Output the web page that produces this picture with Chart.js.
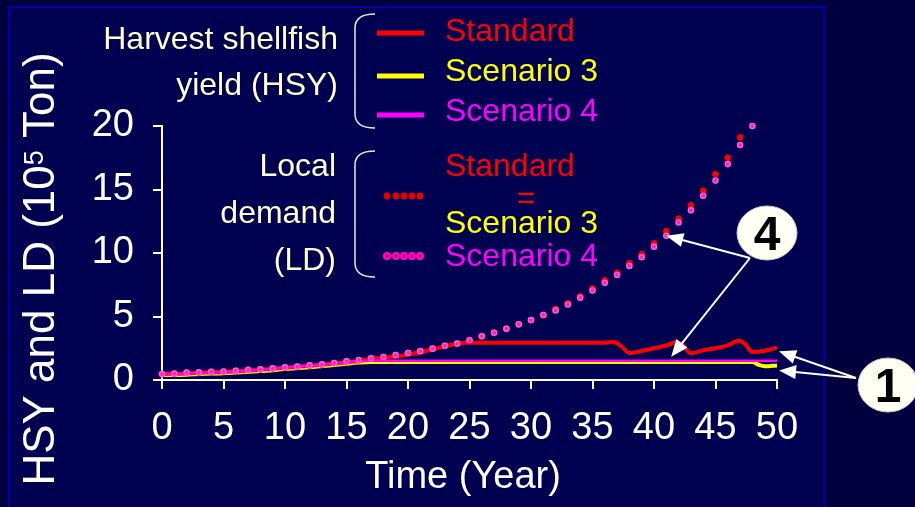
<!DOCTYPE html>
<html>
<head>
<meta charset="utf-8">
<title>HSY and LD</title>
<script src="https://cdn.jsdelivr.net/npm/chart.js@4.4.0/dist/chart.umd.min.js"></script>
<style>
  html, body { margin: 0; padding: 0; background: #00003c; }
  canvas { display: block; }
</style>
</head>
<body>
<canvas id="grafico" width="915" height="507"></canvas>
<script>
// Demanda local (LD) - pontos anuais
var anosLD = [0,1,2,3,4,5,6,7,8,9,10,11,12,13,14,15,16,17,18,19,20,21,22,23,24,25,26,27,28,29,30,31,32,33,34,35,36,37,38,39,40,41,42,43,44,45,46,47,48];
var ldPadrao = [0.47,0.5,0.58,0.6,0.65,0.67,0.73,0.8,0.84,0.92,1.0,1.05,1.15,1.23,1.34,1.47,1.57,1.7,1.81,1.97,2.13,2.27,2.47,2.7,2.87,3.13,3.45,3.72,4.04,4.38,4.72,5.12,5.6,6.05,6.6,7.2,7.85,8.45,9.2,9.9,10.76,11.73,12.7,13.75,14.9,16.2,17.5,19.1];
var ldCenario4 = [0.47,0.5,0.58,0.6,0.65,0.67,0.73,0.8,0.84,0.92,1.0,1.05,1.15,1.23,1.34,1.47,1.57,1.7,1.81,1.97,2.13,2.27,2.47,2.7,2.87,3.13,3.45,3.72,4.04,4.38,4.72,5.12,5.48,5.95,6.47,7.05,7.65,8.27,8.98,9.66,10.5,11.36,12.4,13.36,14.5,15.7,17.0,18.5,20.0];

// Colheita de mariscos (HSY) - linhas
var anosHsyPadrao = [0,2,3,5,8,10,12,14,15,16,16.5,17,18,19,20,21,22,23,24,24.6,30,36,36.7,37.3,38,39,40,41,41.8,42.3,43,44,45,46,46.9,47.4,48,49,50];
var hsyPadrao = [0.47,0.52,0.58,0.63,0.8,0.97,1.12,1.3,1.4,1.5,1.6,1.68,1.75,1.85,2.0,2.18,2.42,2.65,2.85,2.93,2.93,2.93,3.0,2.7,2.12,2.28,2.5,2.72,2.97,2.8,2.1,2.33,2.5,2.73,3.1,2.85,2.2,2.3,2.57];
var anosHsyCenario3 = [0,2,3,5,8,10,12,14,15,16,17,48,48.5,49,50];
var hsyCenario3 = [0.4,0.42,0.48,0.53,0.7,0.86,1.01,1.18,1.28,1.37,1.42,1.42,1.2,1.08,1.15];
var anosHsyCenario4 = [0,2,3,5,8,10,12,14,15,16,17,50];
var hsyCenario4 = [0.47,0.52,0.58,0.63,0.8,0.97,1.12,1.3,1.4,1.5,1.52,1.52];

var ticksX = [0,5,10,15,20,25,30,35,40,45,50];
var ticksY = [0,5,10,15,20];

var fonte = "'Liberation Sans', Arial, sans-serif";

function montarPontos(anos, valores) {
    var pontos = [];
    for (var i = 0; i < valores.length; i++) {
        pontos.push({ x: anos[i], y: valores[i] });
    }
    return pontos;
}

function seta(ctx, x1, y1, x2, y2) {
    var ang = Math.atan2(y2 - y1, x2 - x1);
    var comp = 17, larg = 7;
    ctx.beginPath();
    ctx.moveTo(x1, y1);
    ctx.lineTo(x2 - Math.cos(ang) * comp * 0.8, y2 - Math.sin(ang) * comp * 0.8);
    ctx.stroke();
    ctx.beginPath();
    ctx.moveTo(x2, y2);
    ctx.lineTo(x2 - Math.cos(ang) * comp - Math.sin(ang) * larg, y2 - Math.sin(ang) * comp + Math.cos(ang) * larg);
    ctx.lineTo(x2 - Math.cos(ang) * comp + Math.sin(ang) * larg, y2 - Math.sin(ang) * comp - Math.cos(ang) * larg);
    ctx.closePath();
    ctx.fill();
}

function chave(ctx, x, topo, base) {
    ctx.beginPath();
    ctx.moveTo(x + 20, topo);
    ctx.quadraticCurveTo(x, topo, x, topo + 14);
    ctx.lineTo(x, base - 14);
    ctx.quadraticCurveTo(x, base, x + 20, base);
    ctx.stroke();
}

function circuloNumero(ctx, cx, cy, txt) {
    ctx.beginPath();
    ctx.ellipse(cx, cy, 30, 27, 0, 0, Math.PI * 2);
    ctx.fillStyle = '#FFFFF4';
    ctx.fill();
    ctx.strokeStyle = '#C8C8C8';
    ctx.lineWidth = 1;
    ctx.stroke();
    ctx.fillStyle = '#000000';
    ctx.font = 'bold 48px ' + fonte;
    ctx.textAlign = 'center';
    ctx.textBaseline = 'alphabetic';
    ctx.fillText(txt, cx, cy + 17);
}

// fundo azul escuro com moldura
const fundo = {
    id: 'fundo',
    beforeDraw(chart) {
        const ctx = chart.ctx;
        ctx.save();
        ctx.fillStyle = '#00003E';
        ctx.fillRect(0, 0, chart.width, chart.height);
        ctx.fillStyle = '#000050';
        ctx.fillRect(9, 7, 815, 510);
        ctx.strokeStyle = '#0000A8';
        ctx.lineWidth = 2;
        ctx.strokeRect(9, 7, 815, 510);
        ctx.restore();
    }
}

// legenda, titulos e anotacoes
const extras = {
    id: 'extras',
    afterDraw(chart) {
        const ctx = chart.ctx;
        const xs = chart.scales.x;
        const ys = chart.scales.y;
        ctx.save();

        // titulo eixo Y com expoente
        ctx.fillStyle = '#FFFFFF';
        ctx.textBaseline = 'alphabetic';
        ctx.textAlign = 'left';
        var p1 = 'HSY and LD (10', p2 = '5', p3 = ' Ton)';
        ctx.font = '44px ' + fonte;
        var w1 = ctx.measureText(p1).width, w3 = ctx.measureText(p3).width;
        ctx.font = '27px ' + fonte;
        var w2 = ctx.measureText(p2).width;
        var total = w1 + w2 + w3;
        ctx.translate(54, 269);
        ctx.rotate(-Math.PI / 2);
        ctx.font = '44px ' + fonte;
        ctx.fillText(p1, -total / 2, 0);
        ctx.font = '27px ' + fonte;
        ctx.fillText(p2, -total / 2 + w1, -11);
        ctx.font = '44px ' + fonte;
        ctx.fillText(p3, -total / 2 + w1 + w2, 0);
        ctx.setTransform(1, 0, 0, 1, 0, 0);

        // titulo eixo X
        ctx.font = '38px ' + fonte;
        ctx.textAlign = 'center';
        ctx.fillText('Time (Year)', 463, 488);

        // legenda HSY
        ctx.fillStyle = '#FFFFCC';
        ctx.textAlign = 'right';
        ctx.font = '32px ' + fonte;
        ctx.fillText('Harvest shellfish', 338, 49);
        ctx.fillText('yield (HSY)', 338, 95);
        ctx.fillText('Local', 336, 176);
        ctx.fillText('demand', 336, 223);
        ctx.fillText('(LD)', 336, 270);

        ctx.strokeStyle = '#E6E6E6';
        ctx.lineWidth = 1.5;
        chave(ctx, 355, 14, 128);
        chave(ctx, 355, 151, 277);

        var coresHsy = ['#FF0000', '#FFFF00', '#FF00FF'];
        var yLinhas = [33, 76, 115];
        ctx.lineWidth = 5;
        for (var i = 0; i < 3; i++) {
            ctx.strokeStyle = coresHsy[i];
            ctx.beginPath();
            ctx.moveTo(377, yLinhas[i]);
            ctx.lineTo(424, yLinhas[i]);
            ctx.stroke();
        }

        ctx.textAlign = 'left';
        ctx.font = '32px ' + fonte;
        ctx.fillStyle = '#FF0000';
        ctx.fillText('Standard', 445, 41);
        ctx.fillStyle = '#FFFF00';
        ctx.fillText('Scenario 3', 445, 81);
        ctx.fillStyle = '#FF00FF';
        ctx.fillText('Scenario 4', 445, 121);

        ctx.fillStyle = '#FF0000';
        ctx.fillText('Standard', 445, 176);
        ctx.textAlign = 'center';
        ctx.fillText('=', 526, 208);
        ctx.textAlign = 'left';
        ctx.fillStyle = '#FFFF00';
        ctx.fillText('Scenario 3', 445, 233);
        ctx.fillStyle = '#FF00FF';
        ctx.fillText('Scenario 4', 445, 266);

        var xPontos = [387, 396, 404, 412, 420];
        for (var j = 0; j < xPontos.length; j++) {
            ctx.beginPath();
            ctx.arc(xPontos[j], 196, 3.4, 0, Math.PI * 2);
            ctx.fillStyle = '#E80000';
            ctx.fill();
            ctx.beginPath();
            ctx.arc(xPontos[j], 256, 3.2, 0, Math.PI * 2);
            ctx.fillStyle = '#FF0040';
            ctx.fill();
            ctx.strokeStyle = '#FF00FF';
            ctx.lineWidth = 1.6;
            ctx.stroke();
        }

        // setas e circulos numerados
        ctx.strokeStyle = '#FFFFFF';
        ctx.fillStyle = '#FFFFFF';
        ctx.lineWidth = 2;
        seta(ctx, 750, 258, xs.getPixelForValue(41), ys.getPixelForValue(ldCenario4[41]));
        seta(ctx, 750, 258, xs.getPixelForValue(41.4), ys.getPixelForValue(hsyCenario4[hsyCenario4.length - 1]) - 4);
        seta(ctx, 856, 378, xs.getPixelForValue(50) + 2, ys.getPixelForValue(hsyPadrao[hsyPadrao.length - 1]) + 4);
        seta(ctx, 856, 378, xs.getPixelForValue(50) + 2, ys.getPixelForValue(hsyCenario3[hsyCenario3.length - 1]) + 5);
        circuloNumero(ctx, 767, 233, '4');
        circuloNumero(ctx, 888, 385, '1');

        ctx.restore();
    }
}

var eixoComum = {
    grid: { display: true, drawOnChartArea: false, drawTicks: true, tickLength: 9, color: '#FFFFFF', lineWidth: 2 },
    border: { display: true, color: '#FFFFFF', width: 2 }
};

var config = {
    type: 'line',
    data: {
        datasets: [
            {
                label: 'LD Scenario 4',
                data: montarPontos(anosLD, ldCenario4),
                showLine: false,
                clip: 6,
                pointRadius: 2.6,
                pointBorderWidth: 1.4,
                pointBackgroundColor: '#FF3070',
                pointBorderColor: '#FF55FF',
                order: 1
            },
            {
                label: 'LD Standard',
                data: montarPontos(anosLD, ldPadrao),
                showLine: false,
                clip: 6,
                pointRadius: 3,
                pointBorderWidth: 1,
                pointBackgroundColor: '#FF0000',
                pointBorderColor: '#E00000',
                order: 2
            },
            {
                label: 'HSY Scenario 4',
                data: montarPontos(anosHsyCenario4, hsyCenario4),
                borderColor: '#FF00FF',
                borderWidth: 2.5,
                pointRadius: 0,
                cubicInterpolationMode: 'monotone',
                order: 3
            },
            {
                label: 'HSY Standard',
                data: montarPontos(anosHsyPadrao, hsyPadrao),
                borderColor: '#FF0000',
                borderWidth: 4,
                pointRadius: 0,
                cubicInterpolationMode: 'monotone',
                order: 4
            },
            {
                label: 'HSY Scenario 3',
                data: montarPontos(anosHsyCenario3, hsyCenario3),
                borderColor: '#FFFF00',
                borderWidth: 4,
                pointRadius: 0,
                cubicInterpolationMode: 'monotone',
                order: 5
            }
        ]
    },
    options: {
        responsive: false,
        animation: false,
        layout: { padding: { top: 126, right: 138, bottom: 0, left: 0 } },
        plugins: {
            legend: { display: false },
            tooltip: { enabled: false }
        },
        scales: {
            x: Object.assign({}, eixoComum, {
                type: 'linear',
                min: 0,
                max: 50,
                afterFit: function (s) { s.height = 127; },
                afterBuildTicks: function (s) { s.ticks = ticksX.map(function (v) { return { value: v }; }); },
                ticks: { color: '#FFFFFF', padding: 17, maxRotation: 0, autoSkip: false, font: { family: fonte, size: 38 } }
            }),
            y: Object.assign({}, eixoComum, {
                min: 0,
                max: 20,
                afterFit: function (s) { s.width = 162; },
                afterBuildTicks: function (s) { s.ticks = ticksY.map(function (v) { return { value: v }; }); },
                ticks: { color: '#FFFFFF', padding: 19, font: { family: fonte, size: 38 } }
            })
        }
    },
    plugins: [fundo, extras]
};

var grafico = new Chart(document.getElementById('grafico'), config);
</script>
</body>
</html>
